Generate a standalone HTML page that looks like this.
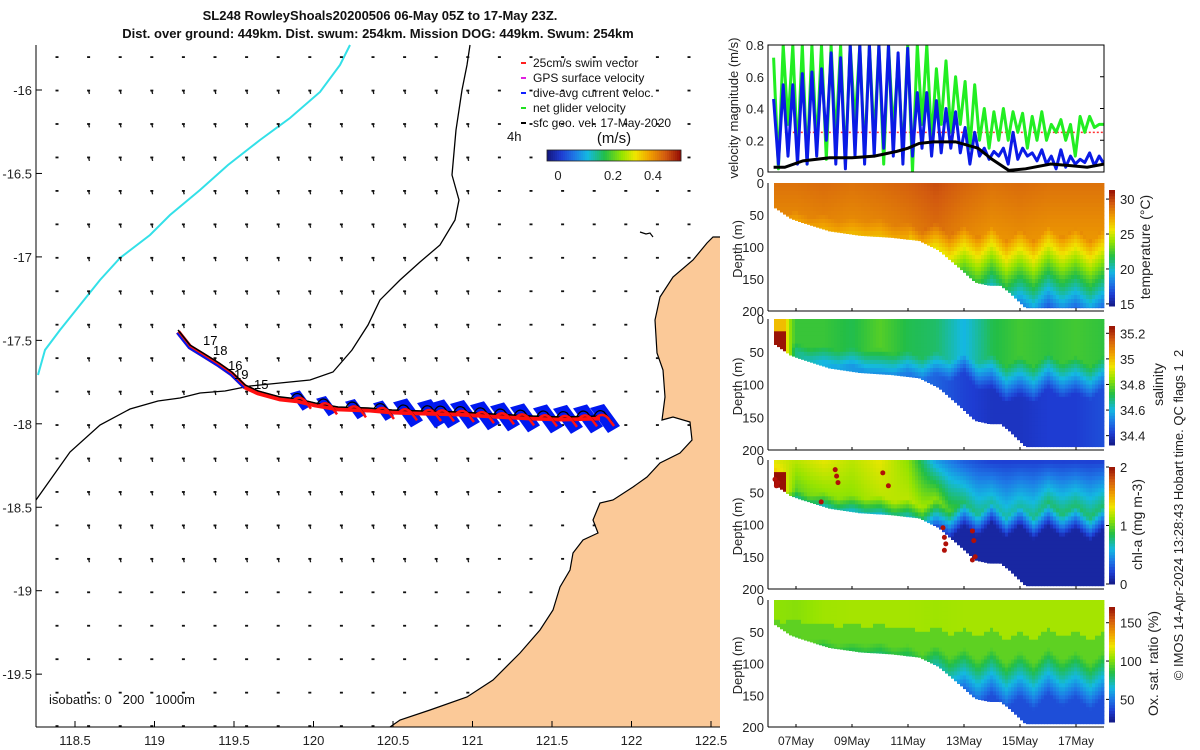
<!DOCTYPE html>
<html><head><meta charset="utf-8"><style>
html,body{margin:0;padding:0;background:#fff;}
svg{display:block;font-family:"Liberation Sans","DejaVu Sans",sans-serif;}
</style></head><body>
<svg id="fig" width="1200" height="750" viewBox="0 0 1200 750" xmlns="http://www.w3.org/2000/svg">
<g id="title" font-weight="bold" font-size="13" text-anchor="middle" fill="#111">
<text x="380" y="20">SL248 RowleyShoals20200506 06-May 05Z to 17-May 23Z.</text>
<text x="378" y="38">Dist. over ground: 449km. Dist. swum: 254km. Mission DOG: 449km. Swum: 254km</text>
</g>
<g id="map"></g>
<g id="right"></g>
</svg>
<script>
// ---------- data ----------
const velGreen=[0.72,0.02,0.8,0.3,0.8,0.1,0.8,0.05,0.8,0.15,0.8,0.08,0.8,0.2,0.8,0.05,0.8,0.3,0.8,0.1,0.8,0.2,0.8,0.05,0.8,0.25,0.7,0.1,0.8,0.0,0.8,0.3,0.8,0.2,
0.65,0.3,0.7,0.25,0.6,0.3,0.57,0.15,0.55,0.2,0.4,0.15,0.38,0.2,0.4,0.2,0.38,0.25,0.37,0.15,0.35,0.2,0.38,0.2,0.3,0.25,0.33,0.2,0.3,0.1,0.35,0.25,0.35,0.28,0.3,0.3];
const velBlue=[0.46,0.05,0.55,0.1,0.55,0.05,0.62,0.05,0.63,0.1,0.65,0.2,0.75,0.05,0.72,0.02,0.8,0.1,0.8,0.05,0.8,0.1,0.8,0.15,0.8,0.1,0.75,0.05,0.78,0.1,0.5,0.15,0.5,0.1,
0.45,0.12,0.4,0.15,0.38,0.12,0.28,0.05,0.25,0.1,0.15,0.08,0.13,0.1,0.15,0.05,0.25,0.08,0.15,0.1,0.12,0.07,0.14,0.05,0.1,0.02,0.14,0.03,0.1,0.05,0.08,0.06,0.12,0.04,0.1,0.05];
const geoT=[0.2,0.6,1.25,2.2,3.0,3.8,4.6,5.0,5.4,5.9,6.7,7.5,8.0,8.6,9.2,10.1,10.8,11.4,12.0];
const geoV=[0.03,0.03,0.07,0.09,0.09,0.1,0.13,0.15,0.18,0.19,0.19,0.15,0.08,0.01,0.02,0.05,0.04,0.03,0.05];
const swimSpeed=0.25;
const bottomT=[0.2,0.8,1.1,2.2,3.3,4.4,5.4,6.1,6.9,7.4,7.9,8.3,8.6,9.2,12.0];
const bottomZ=[37,55,60,75,82,85,90,105,135,155,160,160,170,195,195];
const mldHalfDay=[45,50,45,55,50,60,55,60,55,65,60,75,60,80,65,85,65,90,70,90,65,85,70,90,70];
const tempSurf=[28.8,28.8,29.0,28.8,29.0,29.3,29.8,29.2,28.8,29.0,28.8,28.8,28.8];
const salSurf=[35.1,34.75,34.75,34.72,34.78,34.72,34.7,34.6,34.72,34.76,34.74,34.76,34.74];
const salDeep=[35.2,34.68,34.6,34.56,34.55,34.52,34.48,34.43,34.4,34.4,34.42,34.42,34.45];
const chlSurf=[1.3,1.2,1.3,1.2,1.3,1.1,0.5,0.3,0.2,0.2,0.2,0.2,0.2];
const chlDcm=[1.8,1.0,1.1,1.1,1.2,1.2,1.1,0.8,0.7,0.7,0.8,0.8,0.8];
const oxSurf=[104,102,106,107,107,107,106,107,107,107,107,107,107];
const chlDotT=[0.25,0.35,0.3,2.4,2.45,2.5,4.1,4.3,6.25,6.3,6.35,6.3,7.3,7.35,7.4,7.3,1.9];
const chlDotZ=[30,35,40,15,25,35,20,40,105,120,130,140,110,125,150,155,65];
const trackLon=[119.148,119.223,119.305,119.406,119.487,119.569,119.651,119.789,119.903,120.009,120.154,120.343,120.494,120.682,120.921,121.123,121.362,121.563,121.802];
const trackLat=[-17.438,-17.528,-17.576,-17.636,-17.690,-17.767,-17.803,-17.839,-17.851,-17.875,-17.899,-17.905,-17.917,-17.923,-17.929,-17.941,-17.953,-17.959,-17.953];
const hookLon=[119.896,120.060,120.242,120.418,120.563,120.714,120.796,120.921,121.047,121.173,121.299,121.443,121.569,121.695,121.802];
const dateLabels=["07May","09May","11May","13May","15May","17May"];
const dateDays=[1,3,5,7,9,11];
const lonTicks=[118.5,119,119.5,120,120.5,121,121.5,122,122.5];
const latTicks=[-16,-16.5,-17,-17.5,-18,-18.5,-19,-19.5];

const NS="http://www.w3.org/2000/svg";
function el(tag,attrs,parent,text){const e=document.createElementNS(NS,tag);for(const k in attrs)e.setAttribute(k,attrs[k]);if(text!==undefined)e.textContent=text;parent.appendChild(e);return e;}
function interp(xs,ys,x){if(x<=xs[0])return ys[0];for(let i=1;i<xs.length;i++){if(x<=xs[i]){const f=(x-xs[i-1])/(xs[i]-xs[i-1]);return ys[i-1]+f*(ys[i]-ys[i-1]);}}return ys[ys.length-1];}
const dayIdx=[0,1,2,3,4,5,6,7,8,9,10,11,12];
const halfIdx=mldHalfDay.map((_,i)=>i*0.5);
const stops=[[0,[20,25,130]],[0.1,[30,60,210]],[0.2,[30,120,230]],[0.3,[20,185,225]],[0.43,[35,190,70]],[0.56,[150,228,0]],[0.66,[240,230,0]],[0.77,[240,160,0]],[0.89,[210,90,15]],[1,[150,15,5]]];
function cmap(f){f=Math.max(0,Math.min(1,f));for(let i=1;i<stops.length;i++){if(f<=stops[i][0]){const a=stops[i-1],b=stops[i];const u=(f-a[0])/(b[0]-a[0]);const c=a[1].map((v,j)=>Math.round(v+u*(b[1][j]-v)));return `rgb(${c[0]},${c[1]},${c[2]})`;}}return "rgb(150,15,5)";}

// ---------- map ----------
const map=document.getElementById('map');
const lonX=lon=>75+(lon-118.5)*159;
const latY=lat=>90+(-16-lat)*166.9;
const landPts=[[720,237],[713,237],[707,243],[693,260],[673,277],[660,297],[655,320],[657,353],[663,370],[665,397],[662,420],[673,417],[690,422],[692,440],[680,453],[660,463],[647,477],[633,487],[613,500],[600,503],[593,520],[598,533],[583,540],[573,553],[570,570],[560,587],[553,610],[540,630],[520,653],[493,680],[467,697],[430,710],[400,720],[390,727],[720,727]];
const landD="M"+landPts.map(p=>p.join(",")).join(" L")+" Z";
const land=el('path',{d:landD,fill:"#fbc998",stroke:"none"},map);


const coast=el('path',{d:"M"+landPts.slice(0,-1).map(p=>p.join(",")).join(" L"),fill:"none",stroke:"#000","stroke-width":1.2},map);


el('path',{d:"M640,232 l6,2 l4,-1 l3,4",fill:"none",stroke:"#000","stroke-width":1.2},map);
const iso=el('path',{d:"M470,45 L467,65 L462,90 L456,130 L452,175 L459,200 L455,220 L440,245 L420,262 L400,280 L380,300 L368,325 L352,350 L333,372 L310,380 L280,383 L250,386 L225,391 L200,393 L180,398 L158,401 L130,409 L100,425 L70,452 L36,500",fill:"none",stroke:"#000","stroke-width":1.3},map);


const cyan=el('path',{d:"M350,45 L340,65 L320,92 L290,118 L260,140 L228,165 L200,190 L170,215 L150,235 L120,258 L100,280 L80,305 L60,330 L45,350 L38,375",fill:"none",stroke:"#33e0e8","stroke-width":2},map);


const vg=el('g',{},map);


for(let gx=57;gx<720;gx+=31.6){for(let gy=57;gy<727;gy+=33.45){let onLand=false;try{onLand=land.isPointInFill(new DOMPoint(gx,gy));}catch(e){}
 if(onLand)continue;el('rect',{x:gx-1.5,y:gy-0.8,width:3,height:1.8,fill:"#111"},vg);
 if(gx>80&&gx<470&&gy>90&&gy<560)el('line',{x1:gx,y1:gy,x2:gx+0.8,y2:gy+3.5,stroke:"#111","stroke-width":1.3},vg);}}
const ax=el('g',{stroke:"#000","stroke-width":1},map);

el('line',{x1:36,y1:45,x2:36,y2:727},ax);
el('line',{x1:36,y1:727,x2:720,y2:727},ax);
lonTicks.forEach(v=>el('line',{x1:lonX(v),y1:727,x2:lonX(v),y2:721},ax));
latTicks.forEach(v=>el('line',{x1:36,y1:latY(v),x2:42,y2:latY(v)},ax));
const tr=el('g',{},map);


const tY=lon=>interp(trackLon,trackLat.map(latY),lon);
hookLon.forEach((lon,i)=>{const x=lonX(lon);const y=tY(lon);const s=i<4?0.7:1;
 const p=el('polygon',{points:`${x-10*s},${y-8*s} ${x+4*s},${y-12*s} ${x+20*s},${y+10*s} ${x+8*s},${y+17*s}`,fill:"#0018f0"},tr);
 
 });
const tp=trackLon.map((lon,i)=>[lonX(lon),latY(trackLat[i])]);
el('polyline',{points:tp.map(p=>`${p[0]},${p[1]+2}`).join(" "),fill:"none",stroke:"#ff1010","stroke-width":5},tr);
el('polyline',{points:tp.slice(0,6).map(p=>`${p[0]-1},${p[1]+3}`).join(" "),fill:"none",stroke:"#0018f0","stroke-width":2},tr);
el('polyline',{points:tp.map(p=>`${p[0]},${p[1]}`).join(" "),fill:"none",stroke:"#000","stroke-width":1.5},tr);
hookLon.forEach(lon=>{const x=lonX(lon);const y=tY(lon);
 el('path',{d:`M${x-6},${y} q4,-8 10,-4 l8,10`,fill:"none",stroke:"#000","stroke-width":1.3},tr);
 el('path',{d:`M${x-4},${y+2} q6,-6 12,0 l6,8`,fill:"none",stroke:"#ff1010","stroke-width":2.5},tr);});
const dayLab=[["17",203,345],["18",213,355],["16",228,370],["19",234,379],["15",254,389]];
dayLab.forEach(d=>{const t=el('text',{x:d[1],y:d[2],"font-size":13,fill:"#000"},tr,d[0]);});
lonTicks.forEach(v=>{const t=el('text',{x:lonX(v),y:745,"font-size":13,"text-anchor":"middle",fill:"#222"},map,String(v));});
latTicks.forEach(v=>{const t=el('text',{x:32,y:latY(v)+5,"font-size":13,"text-anchor":"end",fill:"#222"},map,String(v));});
const isoT=el('text',{x:49,y:704,"font-size":13,fill:"#111",style:"white-space:pre"},map,"isobaths: 0   200   1000m");

const lg=el('g',{"font-size":12,fill:"#111"},map);

const legItems=[["25cm/s swim vector","#ff2020"],["GPS surface velocity","#e020e0"],["dive-avg current veloc.","#1020ff"],["net glider velocity","#20e020"],["sfc geo. vel. 17-May-2020","#000"]];
legItems.forEach((it,i)=>{const y=62+i*15;el('line',{x1:521,y1:y+1,x2:526,y2:y+1,stroke:it[1],"stroke-width":2},lg);const t=el('text',{x:533,y:y+5},lg,it[0]);});
el('text',{x:507,y:141,"font-size":13},lg,"4h");
el('text',{x:614,y:143,"font-size":15,"text-anchor":"middle"},lg,"(m/s)");
for(let i=0;i<67;i++)el('rect',{x:547+i*2,y:150,width:2.2,height:11,fill:cmap(i/66)},lg);
el('rect',{x:547,y:150,width:134,height:11,fill:"none",stroke:"#222","stroke-width":0.8},lg);
[["0",558],["0.2",613],["0.4",653]].forEach(a=>el('text',{x:a[1],y:180,"font-size":13,"text-anchor":"middle",fill:"#222"},lg,a[0]));

// ---------- right panels ----------
const R=document.getElementById('right');
const X0=768,X1=1104,PXD=28;
const tX=t=>X0+t*PXD;
const vp={top:45,bot:172};
const vY=v=>vp.bot-Math.min(v,0.85)*158.75;
const vg2=el('g',{},R);
const clip=el('clipPath',{id:'vclip'},vg2);
el('rect',{x:X0,y:vp.top,width:X1-X0,height:vp.bot-vp.top},clip);
const cg=el('g',{"clip-path":"url(#vclip)"},vg2);
const swim=el('line',{x1:tX(0.6),y1:vY(swimSpeed),x2:X1,y2:vY(swimSpeed),stroke:"#ff3030","stroke-width":1.5,"stroke-dasharray":"2,2"},cg);

function series(arr,color,name,w){const n=arr.length;const pts=arr.map((v,i)=>`${tX(0.2+i*11.8/(n-1)).toFixed(1)},${vY(v).toFixed(1)}`).join(" ");const p=el('polyline',{points:pts,fill:"none",stroke:color,"stroke-width":w,"stroke-linejoin":"round"},cg);}
series(velGreen,"#22ee22","net-glider-velocity-line",3);
series(velBlue,"#0a1ae6","dive-avg-current-line",3);
const gl=el('polyline',{points:geoT.map((t,i)=>`${tX(t)},${vY(geoV[i])}`).join(" "),fill:"none",stroke:"#000","stroke-width":3},cg);

el('rect',{x:X0,y:vp.top,width:X1-X0,height:vp.bot-vp.top,fill:"none",stroke:"#000","stroke-width":1},vg2);
[0,0.2,0.4,0.6,0.8].forEach(v=>{const y=vY(v);el('text',{x:764,y:y+5,"font-size":13,"text-anchor":"end",fill:"#222"},vg2,String(v));el('line',{x1:X1-4,y1:y,x2:X1,y2:y,stroke:"#000"},vg2);});
el('text',{x:0,y:0,"font-size":13,"text-anchor":"middle",fill:"#222",transform:"translate(738,108) rotate(-90)"},vg2,"velocity magnitude (m/s)");

const panels=[
 {name:"temperature-section",top:183,bot:311,vmin:14.7,vmax:31.3,label:"temperature (°C)",lx:1150,ticks:[15,20,25,30],
  val:(t,z,m)=>{const ts=interp(dayIdx,tempSurf,t);if(z<m)return ts-z*0.012;const g=t<5?0.055:0.085;return Math.max(15.5,ts-0.7-(z-m)*g);}},
 {name:"salinity-section",top:319,bot:450,vmin:34.327,vmax:35.257,label:"salinity",lx:1163,ticks:[34.4,34.6,34.8,35,35.2],
  val:(t,z,m)=>{if(t<0.6){return z>20?35.25:35.0;}if(t<0.9)return 35.0-(t-0.6)*0.8;const s=interp(dayIdx,salSurf,t),d=interp(dayIdx,salDeep,t);if(z<m*0.8)return s;return Math.max(d,s-(z-m*0.8)*0.006);}},
 {name:"chlorophyll-section",top:460,bot:589,vmin:0,vmax:2,label:"chl-a (mg m-3)",lx:1142,ticks:[0,1,2],
  val:(t,z,m)=>{const s=interp(dayIdx,chlSurf,t),d=interp(dayIdx,chlDcm,t);if(t<0.6&&z>20)return 2;if(z<m)return s+(d-s)*z/m;return Math.max(0.08,d-(z-m)*0.02);}},
 {name:"oxygen-section",top:600,bot:727,vmin:20.5,vmax:170.5,label:"Ox. sat. ratio (%)",lx:1158,ticks:[50,100,150],
  val:(t,z,m)=>{const s=interp(dayIdx,oxSurf,t);if(z<m*0.7)return s;if(z<m+10)return 95;return Math.max(40,95-(z-m-10)*0.75);}}
];
panels.forEach(P=>{
 const g=el('g',{},R);
 const H=P.bot-P.top,py=z=>P.top+z*H/200;
 for(let x=X0+6;x<X1;x+=3){const t=(x+1.5-X0)/PXD;if(t<0.2||t>12)continue;const b=interp(bottomT,bottomZ,t);const m=interp(halfIdx,mldHalfDay,t);
  for(let z=0;z<b;z+=6.25){const v=P.val(t,z+3,m);el('rect',{x:x,y:py(z).toFixed(1),width:3.4,height:(Math.min(6.6,b-z)*H/200+0.4).toFixed(1),fill:cmap((v-P.vmin)/(P.vmax-P.vmin))},g);}}
 if(P.name==="chlorophyll-section"){chlDotT.forEach((t,i)=>{const c=el('circle',{cx:tX(t),cy:py(chlDotZ[i]),r:2.5,fill:"#b01008"},g);});}
 el('line',{x1:X0,y1:P.top,x2:X0,y2:P.bot,stroke:"#000"},g);
 el('line',{x1:X0,y1:P.bot,x2:X1,y2:P.bot,stroke:"#000"},g);
 [0,50,100,150,200].forEach(d=>el('text',{x:764,y:py(d)+5,"font-size":13,"text-anchor":"end",fill:"#222"},g,String(d)));
 el('text',{x:0,y:0,"font-size":13,"text-anchor":"middle",fill:"#222",transform:`translate(742,${(P.top+P.bot)/2+2}) rotate(-90)`},g,"Depth (m)");
 dateDays.forEach(d=>el('line',{x1:tX(d),y1:P.bot,x2:tX(d),y2:P.bot-3,stroke:"#000"},g));
 const cbT=P.top+7,cbB=P.bot-5;const cb=el('g',{},g);
 for(let i=0;i<40;i++){const y=cbB-(i+1)*(cbB-cbT)/40;el('rect',{x:1109,y:y,width:6,height:(cbB-cbT)/40+0.5,fill:cmap((i+0.5)/40)},cb);}
 P.ticks.forEach(v=>{const y=cbB-(v-P.vmin)/(P.vmax-P.vmin)*(cbB-cbT);el('line',{x1:1106,y1:y,x2:1109,y2:y,stroke:"#000"},cb);el('text',{x:1120,y:y+5,"font-size":13,fill:"#222"},cb,String(v));});
 el('text',{x:0,y:0,"font-size":14,"text-anchor":"middle",fill:"#222",transform:`translate(${P.lx},${(P.top+P.bot)/2}) rotate(-90)`},cb,P.label);
});
dateLabels.forEach((s,i)=>{const t=el('text',{x:tX(dateDays[i]),y:745,"font-size":12,"text-anchor":"middle",fill:"#222"},R,s);});
const cp=el('text',{x:0,y:0,"font-size":13,"text-anchor":"middle",fill:"#222",style:"white-space:pre",transform:"translate(1183,515) rotate(-90)"},R,"© IMOS 14-Apr-2024 13:28:43 Hobart time. QC flags 1  2");

</script>
</body></html>
